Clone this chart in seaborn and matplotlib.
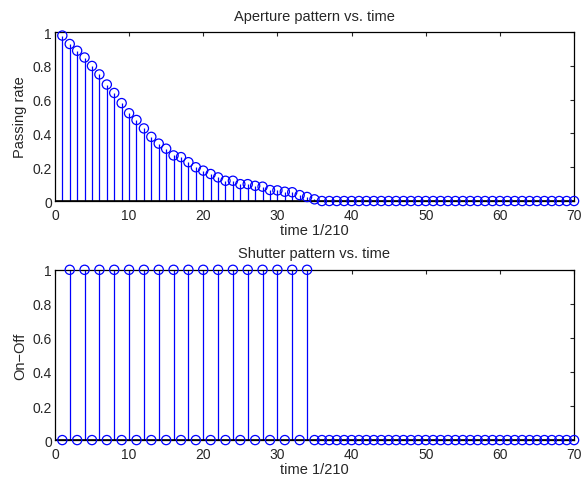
import numpy as np
import matplotlib
matplotlib.use('Agg')
import matplotlib.pyplot as plt
import pandas as pd
import seaborn as sns

# time steps 1..70
time = list(range(1, 71))

# aperture passing rate (zero after t=35)
aperture = [0.98, 0.93, 0.89, 0.85, 0.80, 0.75, 0.69, 0.64, 0.58, 0.52,
            0.48, 0.43, 0.38, 0.34, 0.31, 0.27, 0.26, 0.23, 0.20, 0.18,
            0.16, 0.14, 0.12, 0.12, 0.10, 0.10, 0.09, 0.085, 0.065, 0.063,
            0.055, 0.052, 0.035, 0.024, 0.01] + [0.0] * 35

# shutter on/off: on at even steps 2..34
shutter = [0, 1] * 17 + [0] * 36

xticks = [0, 10, 20, 30, 40, 50, 60, 70]
yticks = [0, 0.2, 0.4, 0.6, 0.8, 1]
yticklabels = ['0', '0.2', '0.4', '0.6', '0.8', '1']


def stem_panel(ax, df, col, title, ylabel):
    ax.vlines(df['time'], 0, df[col], color='#0000ff', lw=0.9, zorder=2)
    ax.axhline(0, color='black', lw=1.2, zorder=3)
    sns.scatterplot(data=df, x='time', y=col, ax=ax, marker='o', s=44,
                    facecolor='none', edgecolor='#0000ff', linewidth=0.9,
                    zorder=4, clip_on=False)
    ax.set_xlim(0, 70)
    ax.set_ylim(0, 1)
    ax.set_xticks(xticks)
    ax.set_yticks(yticks)
    ax.set_yticklabels(yticklabels)
    ax.tick_params(direction='in', top=True, right=True, length=3, width=0.8,
                   labelsize=10, pad=2)
    ax.tick_params(axis='x', pad=5)
    for s in ax.spines.values():
        s.set_linewidth(0.9)
        s.set_color('black')
    ax.set_title(title, fontsize=10.5, pad=9)
    ax.set_xlabel('time 1/210', fontsize=10.5, labelpad=1)
    ax.set_ylabel(ylabel, fontsize=10.5, labelpad=4)


if __name__ == '__main__':
    sns.set_style('white')
    plt.rcParams['font.family'] = ['Liberation Sans', 'DejaVu Sans']

    df = pd.DataFrame({'time': time, 'aperture': aperture, 'shutter': shutter})

    fig = plt.figure(figsize=(5.84, 4.81), dpi=100)
    ax1 = fig.add_axes([0.094, 0.580, 0.889, 0.351])
    ax2 = fig.add_axes([0.094, 0.083, 0.889, 0.354])

    stem_panel(ax1, df, 'aperture', 'Aperture pattern vs. time', 'Passing rate')
    stem_panel(ax2, df, 'shutter', 'Shutter pattern vs. time', 'On\u2212Off')

    fig.savefig('out.png', dpi=100)
    plt.close()
